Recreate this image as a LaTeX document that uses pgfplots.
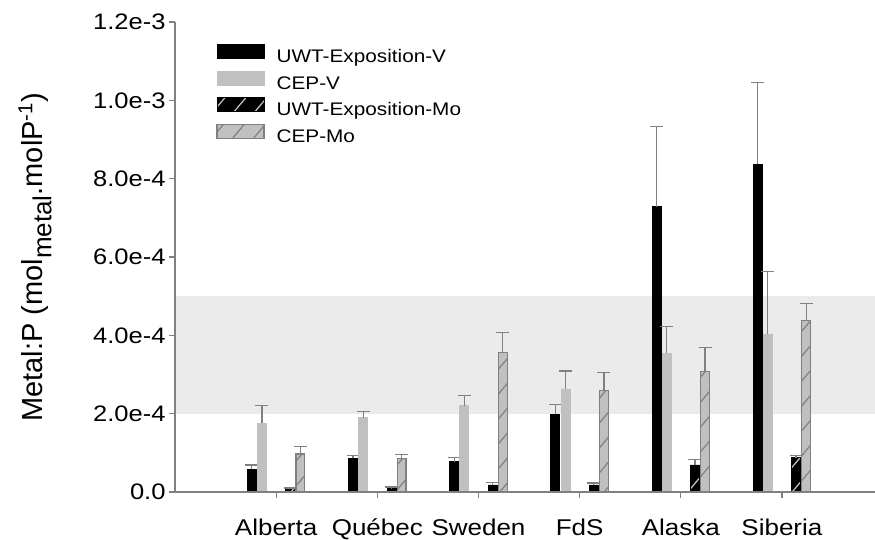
\documentclass[border=0pt]{standalone}
\usepackage{fontspec}
\setmainfont{Liberation Sans}
\newfontfamily\widefont{Liberation Sans}[FakeStretch=1.14]
\usepackage{pgfplots}
\pgfplotsset{compat=1.18}
\usepackage{pgfplotstable}
\usetikzlibrary{patterns.meta}

\definecolor{axgray}{HTML}{808080}
\definecolor{cepgray}{HTML}{C0C0C0}
\definecolor{bandgray}{HTML}{EBEBEB}
\definecolor{hatchlight}{HTML}{C8C8C8}

% x = group (1..6) + offset, y = value, e = upper error
\pgfplotstableread{
x     y        e
0.76  0.58e-4  0.11e-4
1.76  0.86e-4  0.07e-4
2.76  0.77e-4  0.11e-4
3.76  1.99e-4  0.24e-4
4.76  7.28e-4  2.06e-4
5.76  8.37e-4  2.08e-4
}\uwtv
\pgfplotstableread{
x     y        e
0.86  1.75e-4  0.45e-4
1.86  1.90e-4  0.16e-4
2.86  2.20e-4  0.26e-4
3.86  2.63e-4  0.46e-4
4.86  3.54e-4  0.68e-4
5.86  4.03e-4  1.60e-4
}\cepv
\pgfplotstableread{
x     y         e
1.14  0.08e-4   0.02e-4
2.14  0.085e-4  0.045e-4
3.14  0.18e-4   0.06e-4
4.14  0.18e-4   0.05e-4
5.14  0.69e-4   0.14e-4
6.14  0.88e-4   0.06e-4
}\uwtmo
\pgfplotstableread{
x     y        e
1.24  0.97e-4  0.19e-4
2.24  0.86e-4  0.09e-4
3.24  3.56e-4  0.52e-4
4.24  2.60e-4  0.45e-4
5.24  3.07e-4  0.61e-4
6.24  4.37e-4  0.45e-4
}\cepmo

\pgfplotsset{
  errs/.style={error bars/.cd, y dir=plus, y explicit,
    error bar style={axgray, line width=0.6pt, solid},
    error mark options={rotate=90, mark size=3.25pt, axgray, line width=0.6pt, solid}},
}

\begin{document}
\begin{tikzpicture}
\begin{axis}[
    scale only axis,
    width=350pt, height=235pt,
    xmin=0, xmax=6.92,
    ymin=0, ymax=1.2e-3,
    axis x line*=bottom, axis y line*=left,
    axis line style={axgray, line width=0.6pt},
    tick style={axgray, line width=0.6pt},
    tick align=outside, major tick length=3pt,
    xtick={1,2,3,4,5,6},
    xticklabels={Alberta,Québec,Sweden,FdS,Alaska,Siberia},
    xticklabel style={font=\widefont\fontsize{11.4}{14}\selectfont, anchor=base, inner sep=0pt, yshift=-19pt},
    scaled y ticks=false,
    ytick={0,2e-4,4e-4,6e-4,8e-4,1e-3,1.2e-3},
    yticklabels={0.0,2.0e-4,4.0e-4,6.0e-4,8.0e-4,1.0e-3,1.2e-3},
    yticklabel style={font=\widefont\fontsize{11.2}{13}\selectfont, xshift=1.8pt},
    ylabel={Metal:P (mol\raisebox{-0.3em}{\fontsize{13}{13}\selectfont metal}.molP\textsuperscript{-1})},
    ylabel style={font=\fontsize{14.5}{17}\selectfont, at={(axis description cs:-0.2,0.5)}, anchor=center},
    axis on top,
    legend cell align=left,
    legend style={at={(axis description cs:0.0586,0.953)}, anchor=north west,
      draw=none, fill=none, inner sep=0pt, row sep=0.5pt,
      font=\widefont\fontsize{9.1}{11}\selectfont,
      nodes={inner sep=1pt, text height=7.5pt, text depth=2.5pt}},
    legend image code/.code={\draw[#1] (0pt,-0.5pt) rectangle (23.5pt,6.5pt); \path (28.5pt,0pt);},
]
\addplot[draw=none, fill=bandgray, forget plot] coordinates {(0,2e-4) (6.92,2e-4) (6.92,5e-4) (0,5e-4)} -- cycle;

\addplot[ybar, bar width=0.088, bar shift=0pt, fill=black, draw=black, line width=0.4pt, errs]
  table[x=x, y=y, y error=e] {\uwtv};
\addplot[ybar, bar width=0.088, bar shift=0pt, fill=cepgray, draw=cepgray, line width=0.4pt, errs]
  table[x=x, y=y, y error=e] {\cepv};
\addplot[ybar, bar width=0.088, bar shift=0pt, fill=black, draw=black, line width=0.4pt,
  postaction={pattern={Lines[angle=50, distance=8pt, line width=0.6pt]}, pattern color=hatchlight}, errs]
  table[x=x, y=y, y error=e] {\uwtmo};
\addplot[ybar, bar width=0.088, bar shift=0pt, fill=cepgray, draw=axgray, line width=0.6pt,
  postaction={pattern={Lines[angle=50, distance=8pt, line width=0.6pt]}, pattern color=axgray}, errs]
  table[x=x, y=y, y error=e] {\cepmo};

\legend{UWT-Exposition-V, CEP-V, UWT-Exposition-Mo, CEP-Mo}
\end{axis}
\pgfresetboundingbox
\path[use as bounding box] ([shift={(-87.5pt,-24pt)}]current axis.south west) rectangle ([shift={(350pt,246pt)}]current axis.south west);
\end{tikzpicture}
\end{document}
